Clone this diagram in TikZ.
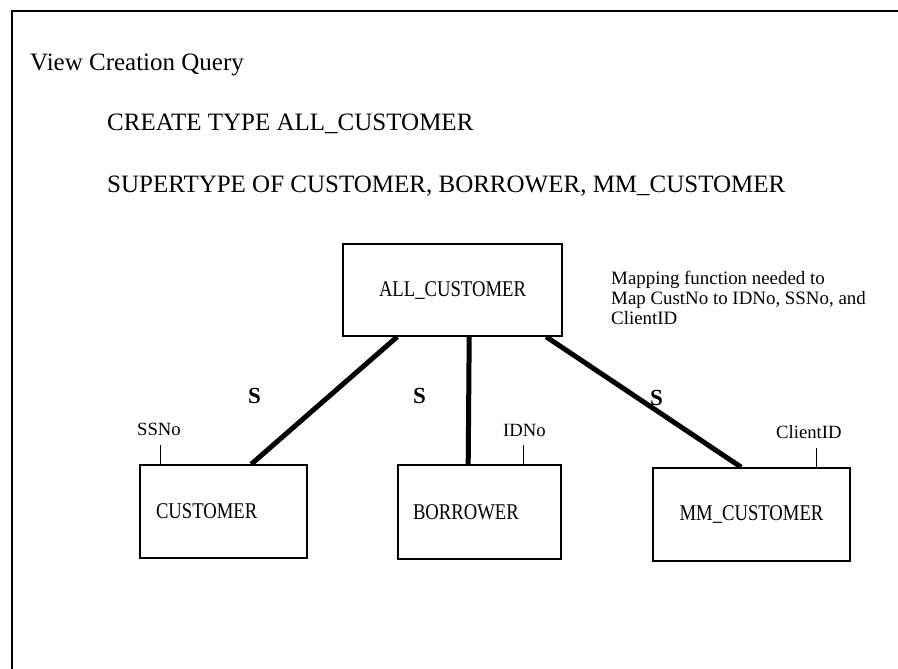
\documentclass[tikz,border=0pt]{standalone}
\usepackage{fontspec}
\setmainfont{Liberation Serif}
\newfontfamily\boxfont[FakeStretch=0.83]{Liberation Serif}
\usetikzlibrary{calc}
\begin{document}
\begin{tikzpicture}[x=1pt,y=-1pt,
  heading/.style={anchor=base west,inner sep=0pt,font={\fontsize{25}{30}\selectfont}},
  entity/.style={draw,line width=1.6pt,inner sep=0pt,font={\boxfont\fontsize{22.5}{26}\selectfont}},
  attr/.style={anchor=base west,inner sep=0pt,font={\fontsize{18.7}{22}\selectfont}},
  slabel/.style={anchor=base west,inner sep=0pt,font={\bfseries\fontsize{23}{26}\selectfont}},
  isa/.style={line width=5pt},
  tickline/.style={line width=1.2pt},
  frameline/.style={line width=2pt}]
\useasboundingbox[fill=white] (0,0) rectangle (898,669);
% frame
\draw[frameline] (12,669) -- (12,11) -- (898,11);
% headings
\node[heading] (title) at (30,71) {View Creation Query};
\node[heading] (q1) at (107,130.5) {CREATE TYPE ALL\_CUSTOMER};
\node[heading] (q2) at (107,192) {SUPERTYPE OF CUSTOMER, BORROWER, MM\_CUSTOMER};
% entities
\node[entity,minimum width=219pt,minimum height=92pt] (all) at (452.5,290) {ALL\_CUSTOMER};
\node[entity,minimum height=93pt,inner xsep=16pt,text width=135pt,align=left] (cust) at (223.5,511.5) {CUSTOMER};
\node[entity,minimum height=94pt,inner xsep=15pt,text width=133pt,align=left] (borr) at (479.5,512) {BORROWER};
\node[entity,minimum width=197pt,minimum height=93pt] (mm) at (751.5,514.5) {MM\_CUSTOMER};
% mapping note
\node[anchor=north west,inner sep=0pt,align=left,font={\fontsize{18.9}{19.8}\selectfont}] (note) at (611,271) {Mapping function needed to\\Map CustNo to IDNo, SSNo, and\\ClientID};
% connectors
\draw[isa] ([xshift=55pt]all.south west) -- ([xshift=112pt]cust.north west);
\draw[isa] ([xshift=127pt]all.south west) -- ([xshift=71pt]borr.north west);
\draw[isa] ([xshift=204pt]all.south west) -- ([xshift=89pt]mm.north west);
% S labels
\node[slabel] (s1) at (248,403) {S};
\node[slabel] (s2) at (413,403) {S};
\node[slabel] (s3) at (650,405) {S};
% attributes
\node[attr] (ssno) at (137,435) {SSNo};
\node[attr] (idno) at (503,436.5) {IDNo};
\node[attr] (clid) at (776,438) {ClientID};
\draw[tickline] ([xshift=21pt]cust.north west) -- ++(0,19pt);
\draw[tickline] ([xshift=126pt]borr.north west) -- ++(0,19pt);
\draw[tickline] ([xshift=164pt]mm.north west) -- ++(0,19pt);
\end{tikzpicture}
\end{document}
